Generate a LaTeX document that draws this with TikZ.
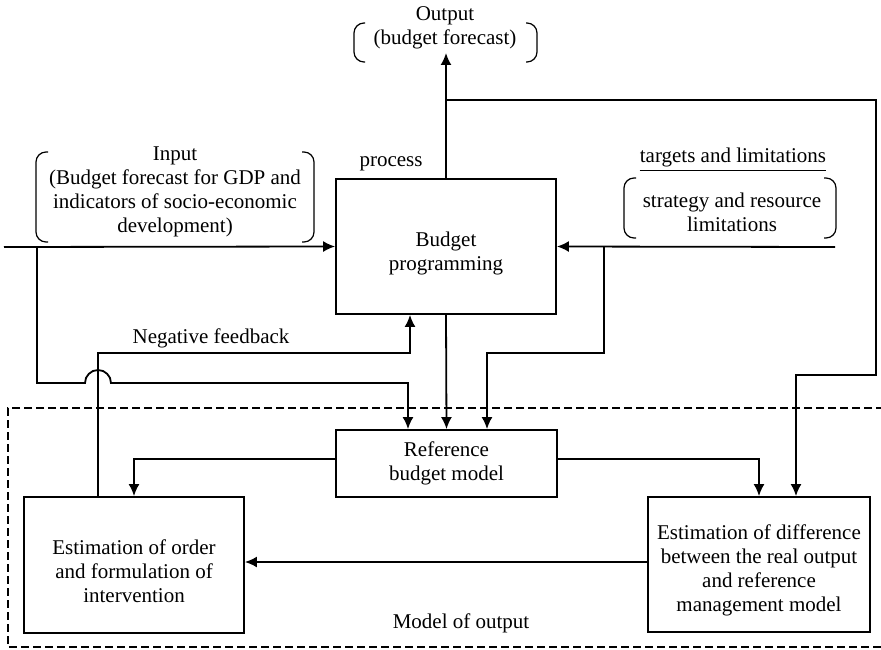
\documentclass[tikz,border=0pt]{standalone}
\usepackage{fontspec}
\setmainfont{Liberation Serif}
\usetikzlibrary{arrows.meta}
% invisible strut that lowers the text block inside a box
\newcommand\droptext[1]{\rule{0pt}{#1}}
\begin{document}
\begin{tikzpicture}[x=1pt,y=-1pt,
  txt/.style={font=\fontsize{21}{24}\selectfont, align=center, inner sep=0pt},
  box/.style={draw, line width=1.8pt, inner sep=0pt, font=\fontsize{21}{24}\selectfont, align=center},
  wire/.style={line width=1.8pt},
  arr/.style={wire, -{Latex[length=12pt,width=11pt]}},
  brk/.style={line width=1.2pt, rounded corners=10pt},
  frame/.style={line width=1.4pt, dash pattern=on 8pt off 4pt}]
\useasboundingbox (0,0) rectangle (881,650);

% dashed frame of the output model (open on the right)
\draw[frame] (884,408) -- (8,408) -- (8,647) -- (884,647);

% blocks
\node[box, minimum width=220pt, minimum height=135pt] (prog) at (446,246.5) {\droptext{29pt}Budget\\programming};
\node[box, minimum width=221pt, minimum height=67pt] (ref) at (446.5,463.5) {Reference\\budget model};
\node[box, minimum width=220pt, minimum height=136pt] (order) at (134,565) {\droptext{27pt}Estimation of order\\and formulation of\\intervention};
\node[box, minimum width=222pt, minimum height=135pt] (diff) at (759,564.5) {\droptext{27pt}Estimation of difference\\between the real output\\and reference\\management model};

% labels
\node[txt] (outT) at (445,28) {Output\\(budget forecast)};
\node[txt] (inT) at (175,192) {Input\\(Budget forecast for GDP and\\indicators of socio-economic\\development)};
\node[txt] (proc) at (391,164) {process};
\node[txt] (tgt) at (733,157) {targets and limitations};
\node[txt] (strat) at (732,212) {strategy and resource\\limitations};
\node[txt] (nf) at (211,338) {Negative feedback};
\node[txt] (mo) at (461,623) {Model of output};

% brackets around the labels
\draw[brk] (365,23) -- (354,23) -- (354,62) -- (365,62);
\draw[brk] (526,23) -- (537,23) -- (537,62) -- (526,62);
\draw[brk] (48,152) -- (36,152) -- (36,242) -- (48,242);
\draw[brk] (302,152) -- (314,152) -- (314,242) -- (302,242);
\draw[brk] (636,178) -- (624,178) -- (624,238) -- (636,238);
\draw[brk] (824,178) -- (836,178) -- (836,238) -- (824,238);
% underline of the targets label
\path (tgt.south west) ++(0,4) coordinate (ulL) (tgt.south east) ++(0,4) coordinate (ulR);
\draw[line width=1.4pt] (ulL) -- (ulR);

% guide points for the connectors
\coordinate (outTip) at (446,53);
\coordinate (jTop) at (446,100);
\coordinate (inL) at (4,247);
\coordinate (inJ) at (37,247);
\coordinate (inR) at (835,247);
\coordinate (inRJ) at (604,247);
\coordinate (hopC) at (98,383);
\coordinate (gA) at (408,0);
\coordinate (gC) at (487,0);
\coordinate (gD) at (796,0);
\coordinate (gF) at (410,0);
\coordinate (gN) at (98,0);
\coordinate (yR) at (0,459);
\coordinate (yH) at (0,562);

% connectors
\draw[arr] (prog.north) -- (outTip);
\draw[arr] (jTop) -- (876,100) -- (876,375) -| (gD |- diff.north);
\draw[arr] (inL) -- (prog.west);
\draw[arr] (inJ) -- (37,383) -- ([xshift=-13pt]hopC) arc[start angle=180, end angle=360, radius=13] -- (408,383) -- (gA |- ref.north);
\draw[arr] (inR) -- (prog.east);
\draw[arr] (inRJ) -- (604,353) -- (487,353) -- (gC |- ref.north);
\draw[arr] (gN |- order.north) -- (98,353) -- (410,353) -- (gF |- prog.south);
\draw[arr] (prog.south) -- (ref.north);
\draw[arr] (ref.west |- yR) -| (order.north);
\draw[arr] (ref.east |- yR) -| (diff.north);
\draw[arr] (diff.west |- yH) -- (order.east |- yH);
\end{tikzpicture}
\end{document}
